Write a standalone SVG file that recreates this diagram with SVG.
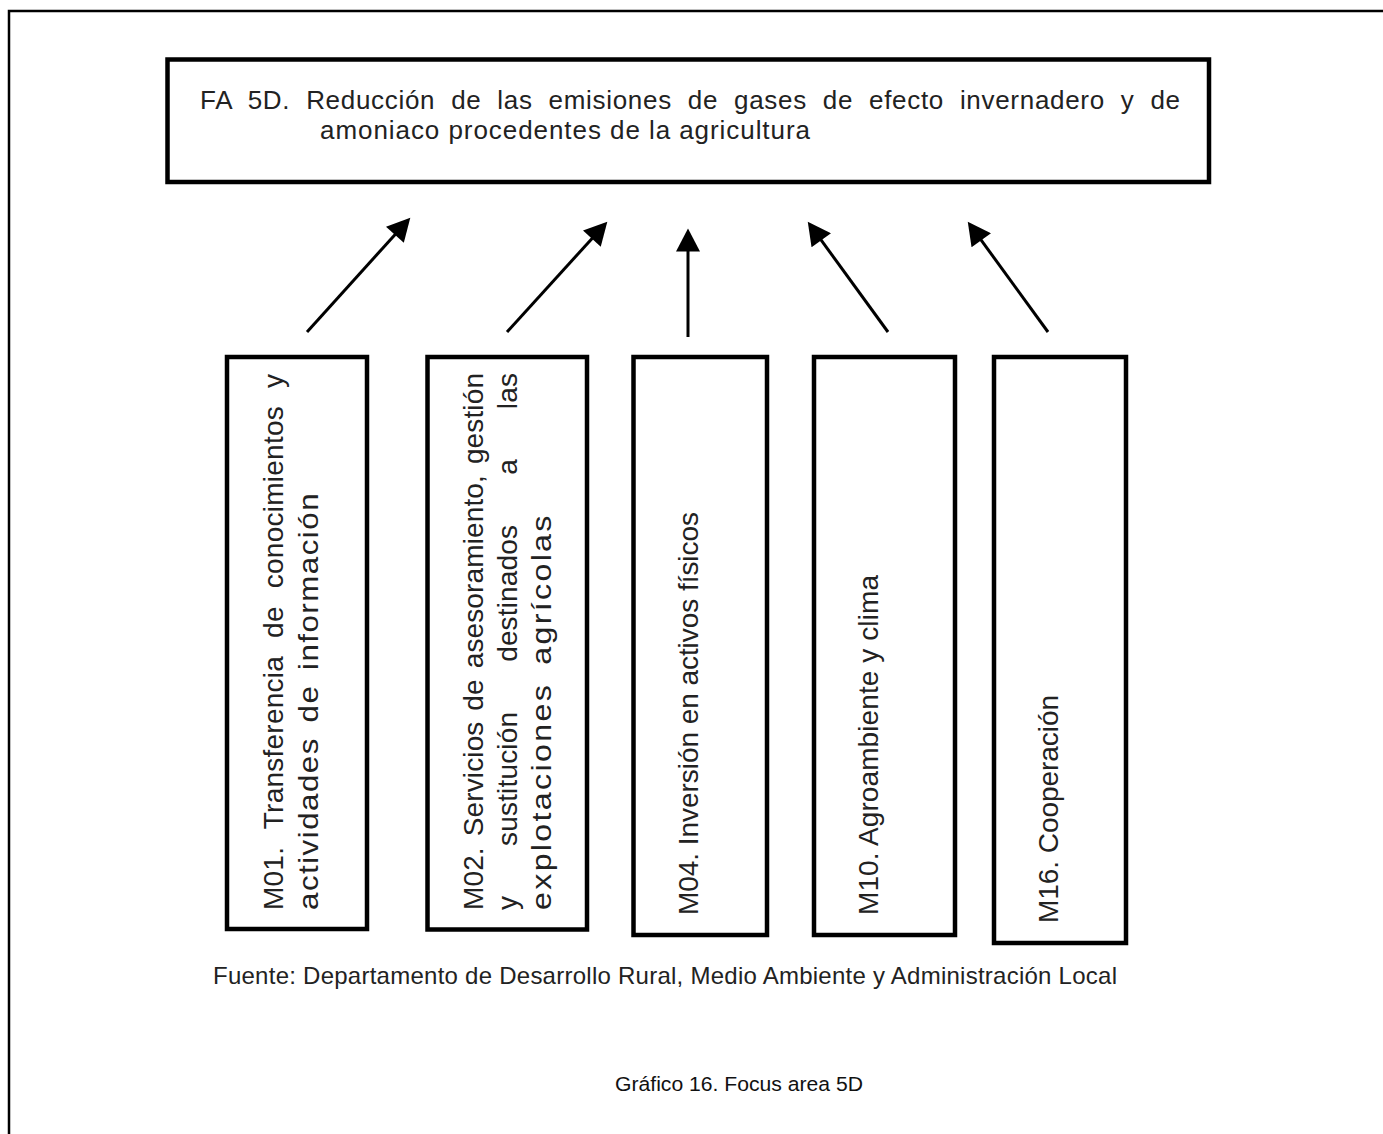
<svg xmlns="http://www.w3.org/2000/svg" width="1383" height="1134" viewBox="0 0 1383 1134">
<style>
.box{fill:#fff;stroke:#000;stroke-width:4.5}
.t{font-family:"Liberation Sans",Arial,sans-serif;font-size:28px;fill:#222}
.th{font-family:"Liberation Sans",Arial,sans-serif;font-size:26px;fill:#222}
.tf{font-family:"Liberation Sans",Arial,sans-serif;font-size:24px;fill:#222}
.tc{font-family:"Liberation Sans",Arial,sans-serif;font-size:20.5px;fill:#111}
.conn{stroke:#000;stroke-width:3;fill:none}
</style>
<defs>
<marker id="ah" markerUnits="userSpaceOnUse" markerWidth="24" markerHeight="24" viewBox="0 0 22 23" refX="12" refY="11.5" orient="auto">
<path d="M0,0 L22,11.5 L0,23 z" fill="#000"/>
</marker>
</defs>
<rect width="1383" height="1134" fill="#fff"/>
<path d="M9,1134 V11 H1383" fill="none" stroke="#000" stroke-width="2.5"/>

<g id="fa5d">
<rect class="box" x="167.5" y="59.5" width="1041.5" height="122.5"/>
<text class="th" x="200" y="109" word-spacing="8" textLength="980" lengthAdjust="spacing">FA 5D. Reducción de las emisiones de gases de efecto invernadero y de</text>
<text class="th" x="320" y="139" textLength="490" lengthAdjust="spacing">amoniaco procedentes de la agricultura</text>
</g>

<g id="connectors">
<line class="conn" x1="307" y1="332" x2="403.3" y2="225.4" marker-end="url(#ah)"/>
<line class="conn" x1="507" y1="332" x2="600.3" y2="229.4" marker-end="url(#ah)"/>
<line class="conn" x1="688" y1="337" x2="688" y2="239" marker-end="url(#ah)"/>
<line class="conn" x1="888" y1="332" x2="813.9" y2="230.1" marker-end="url(#ah)"/>
<line class="conn" x1="1048" y1="332" x2="973.9" y2="230.1" marker-end="url(#ah)"/>
</g>

<g id="m01">
<rect class="box" x="227" y="357" width="140" height="572"/>
<text class="t" transform="translate(283,910) rotate(-90)" word-spacing="10" textLength="536" lengthAdjust="spacing">M01. Transferencia de conocimientos y</text>
<text class="t" transform="translate(318,910) rotate(-90) scale(1.12,1)" word-spacing="4" textLength="372" lengthAdjust="spacing">actividades de información</text>
</g>

<g id="m02">
<rect class="box" x="427.5" y="357" width="159.5" height="572.5"/>
<text class="t" transform="translate(483,910) rotate(-90)" word-spacing="3" textLength="537" lengthAdjust="spacing">M02. Servicios de asesoramiento, gestión</text>
<text class="t" transform="translate(517,910) rotate(-90)" word-spacing="42" textLength="537" lengthAdjust="spacing">y sustitución destinados a las</text>
<text class="t" transform="translate(551,910) rotate(-90) scale(1.15,1)" word-spacing="6" textLength="343" lengthAdjust="spacing">explotaciones agrícolas</text>
</g>

<g id="m04">
<rect class="box" x="633.5" y="357" width="133.5" height="578"/>
<text class="t" transform="translate(698,915) rotate(-90)" textLength="403" lengthAdjust="spacing">M04. Inversión en activos físicos</text>
</g>

<g id="m10">
<rect class="box" x="814" y="357" width="141" height="578"/>
<text class="t" transform="translate(878,915) rotate(-90)" textLength="340" lengthAdjust="spacing">M10. Agroambiente y clima</text>
</g>

<g id="m16">
<rect class="box" x="994" y="357" width="132" height="586"/>
<text class="t" transform="translate(1058,923) rotate(-90)" textLength="228" lengthAdjust="spacing">M16. Cooperación</text>
</g>

<text class="tf" x="213" y="984" textLength="904" lengthAdjust="spacing">Fuente: Departamento de Desarrollo Rural, Medio Ambiente y Administración Local</text>
<text class="tc" x="615" y="1091" textLength="248" lengthAdjust="spacingAndGlyphs">Gráfico 16. Focus area 5D</text>
</svg>
